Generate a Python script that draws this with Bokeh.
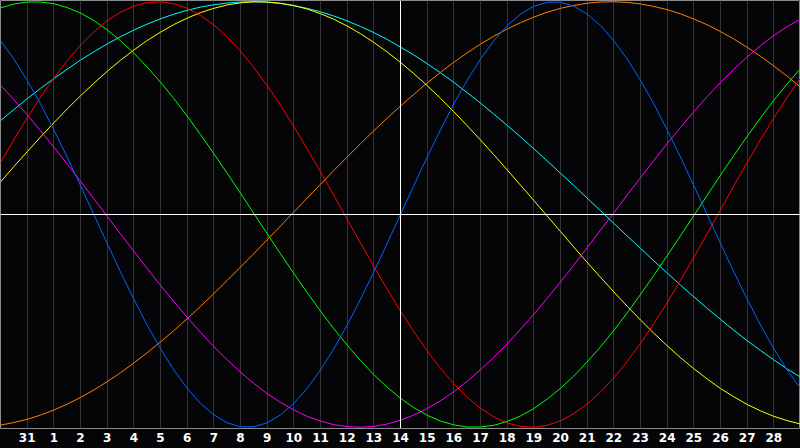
from bokeh.plotting import figure
from bokeh.models import Range1d, FixedTicker, Span
from bokeh.embed import file_html
from bokeh.resources import INLINE

# x positions in days, every half day: -1 = the 30th of the previous month, 0 = the 31st, 1..29 = this month
days = [i / 2 for i in range(-2, 59)]

tick_days = list(range(0, 29))
tick_labels = ["31"] + [str(i) for i in range(1, 29)]

blue = [0.817, 0.731, 0.631, 0.520, 0.398, 0.270, 0.136, 0.0, -0.136, -0.270,
        -0.398, -0.520, -0.631, -0.731, -0.817, -0.888, -0.942, -0.979, -0.998, -0.998,
        -0.979, -0.942, -0.888, -0.817, -0.731, -0.631, -0.520, -0.398, -0.270, -0.136,
        0.0, 0.136, 0.270, 0.398, 0.520, 0.631, 0.731, 0.817, 0.888, 0.942,
        0.979, 0.998, 0.998, 0.979, 0.942, 0.888, 0.817, 0.731, 0.631, 0.520,
        0.398, 0.270, 0.136, 0.0, -0.136, -0.270, -0.398, -0.520, -0.631, -0.731, -0.817]

red = [0.244, 0.351, 0.454, 0.551, 0.641, 0.723, 0.796, 0.858, 0.911, 0.951,
       0.980, 0.996, 1.000, 0.991, 0.970, 0.936, 0.891, 0.835, 0.768, 0.691,
       0.606, 0.513, 0.414, 0.309, 0.201, 0.090, -0.022, -0.134, -0.244, -0.351,
       -0.454, -0.551, -0.641, -0.723, -0.796, -0.858, -0.911, -0.951, -0.980, -0.996,
       -1.000, -0.991, -0.970, -0.936, -0.891, -0.835, -0.768, -0.691, -0.606, -0.513,
       -0.414, -0.309, -0.201, -0.090, 0.022, 0.134, 0.244, 0.351, 0.454, 0.551, 0.641]

green = [0.971, 0.989, 0.999, 0.999, 0.991, 0.973, 0.947, 0.912, 0.868, 0.817,
         0.759, 0.693, 0.622, 0.545, 0.463, 0.376, 0.286, 0.194, 0.100, 0.005,
         -0.090, -0.185, -0.277, -0.367, -0.454, -0.537, -0.614, -0.686, -0.753, -0.812,
         -0.864, -0.908, -0.944, -0.971, -0.989, -0.999, -0.999, -0.991, -0.973, -0.947,
         -0.912, -0.868, -0.817, -0.759, -0.693, -0.622, -0.545, -0.463, -0.376, -0.286,
         -0.194, -0.100, -0.005, 0.090, 0.185, 0.277, 0.367, 0.454, 0.537, 0.614, 0.686]

magenta = [0.608, 0.540, 0.469, 0.394, 0.317, 0.238, 0.156, 0.074, -0.008, -0.091,
           -0.173, -0.254, -0.333, -0.409, -0.483, -0.554, -0.621, -0.683, -0.741, -0.794,
           -0.842, -0.883, -0.919, -0.949, -0.971, -0.988, -0.997, -1.000, -0.996, -0.985,
           -0.967, -0.943, -0.912, -0.876, -0.833, -0.784, -0.730, -0.671, -0.608, -0.540,
           -0.469, -0.394, -0.317, -0.238, -0.156, -0.074, 0.008, 0.091, 0.173, 0.254,
           0.333, 0.409, 0.483, 0.554, 0.621, 0.683, 0.741, 0.794, 0.842, 0.883, 0.919]

cyan = [0.441, 0.493, 0.544, 0.593, 0.639, 0.683, 0.726, 0.765, 0.802, 0.836,
        0.867, 0.895, 0.920, 0.942, 0.960, 0.975, 0.986, 0.994, 0.999, 1.000,
        0.998, 0.992, 0.982, 0.969, 0.953, 0.933, 0.910, 0.884, 0.855, 0.823,
        0.787, 0.750, 0.709, 0.666, 0.621, 0.573, 0.524, 0.472, 0.419, 0.365,
        0.309, 0.252, 0.194, 0.136, 0.077, 0.018, -0.042, -0.101, -0.159, -0.218,
        -0.275, -0.332, -0.387, -0.441, -0.493, -0.544, -0.593, -0.639, -0.684, -0.726, -0.765]

yellow = [0.153, 0.225, 0.295, 0.364, 0.431, 0.496, 0.558, 0.617, 0.673, 0.725,
          0.773, 0.818, 0.857, 0.893, 0.923, 0.949, 0.969, 0.985, 0.995, 1.000,
          0.999, 0.993, 0.982, 0.966, 0.944, 0.918, 0.886, 0.850, 0.809, 0.764,
          0.715, 0.662, 0.606, 0.546, 0.483, 0.418, 0.350, 0.281, 0.210, 0.138,
          0.066, -0.007, -0.080, -0.153, -0.225, -0.295, -0.364, -0.431, -0.496, -0.558,
          -0.617, -0.673, -0.725, -0.773, -0.818, -0.857, -0.893, -0.923, -0.949, -0.969, -0.985]

orange = [-0.990, -0.978, -0.963, -0.943, -0.919, -0.892, -0.860, -0.825, -0.786, -0.744,
          -0.698, -0.650, -0.599, -0.546, -0.490, -0.432, -0.372, -0.310, -0.247, -0.184,
          -0.119, -0.054, 0.012, 0.077, 0.142, 0.207, 0.270, 0.333, 0.394, 0.453,
          0.510, 0.565, 0.618, 0.668, 0.716, 0.760, 0.801, 0.838, 0.872, 0.902,
          0.928, 0.951, 0.969, 0.983, 0.993, 0.999, 1.000, 0.997, 0.990, 0.978,
          0.963, 0.943, 0.919, 0.892, 0.860, 0.825, 0.786, 0.744, 0.698, 0.650, 0.599]

series = [
    (orange, "#ff8000"),
    (cyan, "#00ffff"),
    (yellow, "#ffff00"),
    (magenta, "#ff00ff"),
    (green, "#00ff00"),
    (red, "#ff0000"),
    (blue, "#0066ff"),
]

BG = "#050508"

p = figure(width=800, height=448, output_backend="svg", toolbar_location=None,
           x_range=Range1d(-1, 29), y_range=Range1d(-1.006, 1.006),
           y_axis_location=None,
           min_border_left=0, min_border_right=0, min_border_top=0, min_border_bottom=20,
           background_fill_color=BG, border_fill_color=BG,
           outline_line_color="#8c8c8c", outline_line_width=1)

p.ygrid.visible = False
p.xgrid.ticker = FixedTicker(ticks=tick_days)
p.xgrid.grid_line_color = "#333333"
p.xgrid.grid_line_width = 1

ax = p.xaxis[0]
ax.ticker = FixedTicker(ticks=tick_days)
ax.major_label_overrides = {d: lab for d, lab in zip(tick_days, tick_labels)}
ax.axis_line_color = None
ax.major_tick_line_color = None
ax.minor_tick_line_color = None
ax.major_tick_out = 0
ax.major_tick_in = 0
ax.major_label_standoff = 4
ax.major_label_text_color = "white"
ax.major_label_text_font = "DejaVu Sans"
ax.major_label_text_font_style = "bold"
ax.major_label_text_font_size = "12px"

p.add_layout(Span(location=14, dimension="height", line_color="white", line_width=1))
p.add_layout(Span(location=0, dimension="width", line_color="white", line_width=1))

for vals, col in series:
    p.line(days, vals, line_color=col, line_width=1)

tmpl = """{% block preamble %}<style>html, body { background-color: #050508; }</style>{% endblock %}"""

open("out.html", "w").write(file_html(p, INLINE, template=tmpl))
